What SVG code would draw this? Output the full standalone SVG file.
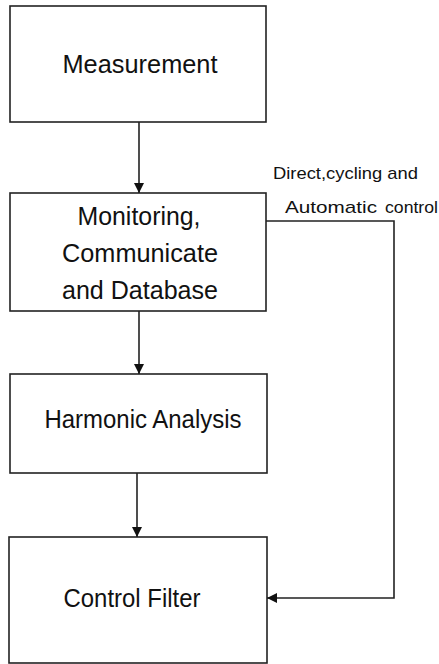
<svg xmlns="http://www.w3.org/2000/svg" width="439" height="664" viewBox="0 0 439 664">
  <style>
    .box { fill: #ffffff; stroke: #222222; stroke-width: 1.6; }
    .wire { fill: none; stroke: #222222; stroke-width: 1.6; }
    .lbl { font-family: "Liberation Sans", Arial, sans-serif; font-size: 25px; fill: #111111; text-anchor: middle; }
    .note { font-family: "Liberation Sans", Arial, sans-serif; font-size: 17px; fill: #111111; }
  </style>
  <defs>
    <marker id="arrow" viewBox="0 0 10 10" refX="10" refY="5" markerWidth="10" markerHeight="10" markerUnits="userSpaceOnUse" orient="auto">
      <path d="M0,0 L10,5 L0,10 Z" fill="#111111"/>
    </marker>
  </defs>
  <rect width="439" height="664" fill="#ffffff"/>

  <g id="measurement">
    <rect class="box" x="10" y="6" width="256" height="116"/>
    <text class="lbl" x="140" y="73" textLength="155" lengthAdjust="spacingAndGlyphs">Measurement</text>
  </g>

  <g id="monitoring">
    <rect class="box" x="10" y="193" width="256" height="118"/>
    <text class="lbl" x="139" y="225" textLength="123" lengthAdjust="spacingAndGlyphs">Monitoring,</text>
    <text class="lbl" x="140" y="262" textLength="156" lengthAdjust="spacingAndGlyphs">Communicate</text>
    <text class="lbl" x="140" y="299" textLength="156" lengthAdjust="spacingAndGlyphs">and Database</text>
  </g>

  <g id="harmonic">
    <rect class="box" x="10" y="374" width="257" height="99"/>
    <text class="lbl" x="143" y="428" textLength="197" lengthAdjust="spacingAndGlyphs">Harmonic Analysis</text>
  </g>

  <g id="filter">
    <rect class="box" x="9" y="537" width="258" height="126"/>
    <text class="lbl" x="132" y="607" textLength="137" lengthAdjust="spacingAndGlyphs">Control Filter</text>
  </g>

  <g id="connectors">
    <line class="wire" x1="139" y1="122" x2="139" y2="193" marker-end="url(#arrow)"/>
    <line class="wire" x1="139" y1="311" x2="139" y2="374" marker-end="url(#arrow)"/>
    <line class="wire" x1="137" y1="473" x2="137" y2="537" marker-end="url(#arrow)"/>
    <polyline class="wire" points="266,221 394,221 394,598 267,598" marker-end="url(#arrow)"/>
  </g>

  <g id="control-note">
    <text class="note" x="273" y="179" textLength="145" lengthAdjust="spacingAndGlyphs">Direct,cycling and</text>
    <text class="note" x="285" y="213" textLength="92" lengthAdjust="spacingAndGlyphs">Automatic</text>
    <text class="note" x="385" y="213" textLength="53" lengthAdjust="spacingAndGlyphs">control</text>
  </g>
</svg>
